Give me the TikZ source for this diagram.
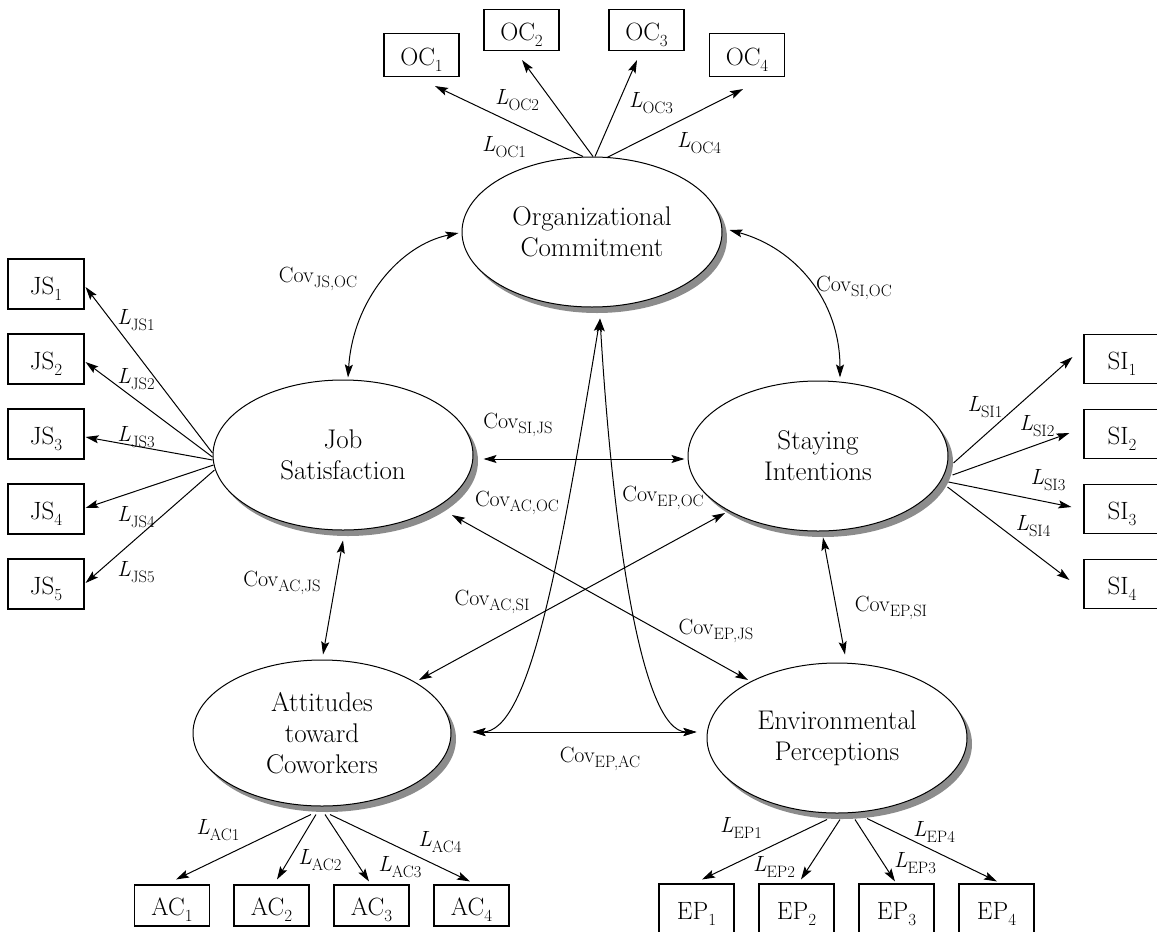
\documentclass[tikz,border=0pt]{standalone}
\usetikzlibrary{arrows.meta,shapes.geometric}
\newcommand\lsub[1]{\raisebox{-5.5pt}{\fontsize{16.5}{16.5}\selectfont #1}}
\newcommand\bsub[1]{\raisebox{-6pt}{\fontsize{17}{17}\selectfont #1}}
\tikzset{
  latent/.style={ellipse, draw, line width=1pt, fill=white, minimum width=260pt, minimum height=150pt,
    inner sep=0pt, align=center, font=\fontsize{27}{31}\selectfont,
    preaction={fill=black!45, transform canvas={shift={(5pt,-6pt)}}}},
  obsbox/.style={draw, line width=1.1pt, minimum width=75pt, inner sep=0pt,
    text height=20pt, text depth=0pt, font=\fontsize{25}{28}\selectfont},
  lab/.style={inner sep=0pt, font=\fontsize{22}{26}\selectfont},
  tip/.style={Stealth[length=13pt,width=8pt,inset=2.5pt]},
  arr/.style={-{Stealth[length=13pt,width=8pt,inset=2.5pt]}, line width=1pt},
  darr/.style={{Stealth[length=13pt,width=8pt,inset=2.5pt]}-{Stealth[length=13pt,width=8pt,inset=2.5pt]}, line width=1pt}
}
\begin{document}
\begin{tikzpicture}[x=1pt,y=-1pt]
\path[fill=white, use as bounding box] (0,0) rectangle (1157,932);

% latent variables
\node[latent] (oc) at (592,232) {Organizational\\Commitment};
\node[latent] (js) at (343,455) {Job\\Satisfaction};
\node[latent] (si) at (818,456) {Staying\\Intentions};
\node[latent, minimum width=258pt, minimum height=146pt] (ac) at (322,733) {Attitudes\\toward\\Coworkers};
\node[latent] (ep) at (837,738) {Environmental\\Perceptions};

% observed boxes
\node[obsbox, minimum height=43pt] (oc1) at (421.5,55) {OC\bsub{1}};
\node[obsbox, minimum height=41pt] (oc2) at (521.5,30) {OC\bsub{2}};
\node[obsbox, minimum height=41pt] (oc3) at (646.5,30) {OC\bsub{3}};
\node[obsbox, minimum height=43pt] (oc4) at (747,55) {OC\bsub{4}};

\node[obsbox, minimum width=76pt, minimum height=50pt] (js1) at (46,284) {JS\bsub{1}};
\node[obsbox, minimum width=76pt, minimum height=50pt] (js2) at (46,359) {JS\bsub{2}};
\node[obsbox, minimum width=76pt, minimum height=50pt] (js3) at (46,434) {JS\bsub{3}};
\node[obsbox, minimum width=76pt, minimum height=50pt] (js4) at (46,509) {JS\bsub{4}};
\node[obsbox, minimum width=76pt, minimum height=50pt] (js5) at (46,584) {JS\bsub{5}};

\node[obsbox, minimum width=76pt, minimum height=49pt] (si1) at (1122,359) {SI\bsub{1}};
\node[obsbox, minimum width=76pt, minimum height=49pt] (si2) at (1122,434) {SI\bsub{2}};
\node[obsbox, minimum width=76pt, minimum height=49pt] (si3) at (1122,509) {SI\bsub{3}};
\node[obsbox, minimum width=76pt, minimum height=49pt] (si4) at (1122,584) {SI\bsub{4}};

\node[obsbox, minimum height=41pt] (ac1) at (172,905.5) {AC\bsub{1}};
\node[obsbox, minimum height=41pt] (ac2) at (271.5,905.5) {AC\bsub{2}};
\node[obsbox, minimum height=41pt] (ac3) at (371.5,905.5) {AC\bsub{3}};
\node[obsbox, minimum height=41pt] (ac4) at (471.5,905.5) {AC\bsub{4}};

\node[obsbox, minimum height=50pt] (ep1) at (696.5,909) {EP\bsub{1}};
\node[obsbox, minimum height=50pt] (ep2) at (796.5,909) {EP\bsub{2}};
\node[obsbox, minimum height=50pt] (ep3) at (896.5,909) {EP\bsub{3}};
\node[obsbox, minimum height=50pt] (ep4) at (996.5,909) {EP\bsub{4}};

% loadings
\draw[arr] ([shift={(-9,0)}]oc.north) -- ([shift={(13.5,9)}]oc1.south);
\draw[arr] ([shift={(1,0)}]oc.north) -- ([shift={(0.5,9)}]oc2.south);
\draw[arr] ([shift={(3,0)}]oc.north) -- ([shift={(-9.5,9)}]oc3.south);
\draw[arr] ([shift={(15,1)}]oc.north) -- ([shift={(-4,12)}]oc4.south);

\draw[arr] ([shift={(0,-2)}]js.west) -- ([shift={(1,3)}]js1.east);
\draw[arr] ([shift={(0,2)}]js.west) -- ([shift={(1,3)}]js2.east);
\draw[arr] ([shift={(0,5)}]js.west) -- ([shift={(1,3)}]js3.east);
\draw[arr] ([shift={(1,10)}]js.west) -- ([shift={(1,-1)}]js4.east);
\draw[arr] ([shift={(2,15)}]js.west) -- ([shift={(1,-1)}]js5.east);

\draw[arr] ([shift={(5,7)}]si.east) -- ([shift={(-11,-2)}]si1.west);
\draw[arr] ([shift={(4,19)}]si.east) -- ([shift={(-14,-1)}]si2.west);
\draw[arr] ([shift={(0,26)}]si.east) -- ([shift={(-12,-2)}]si3.west);
\draw[arr] ([shift={(-1,31)}]si.east) -- ([shift={(-14,-4)}]si4.west);

\draw[arr] ([shift={(-11,8)}]ac.south) -- ([shift={(4,-5)}]ac1.north);
\draw[arr] ([shift={(-6,8)}]ac.south) -- ([shift={(5.5,-5)}]ac2.north);
\draw[arr] ([shift={(3,8)}]ac.south) -- ([shift={(-2.5,-3)}]ac3.north);
\draw[arr] ([shift={(8,8)}]ac.south) -- ([shift={(-1.5,-3)}]ac4.north);

\draw[arr] ([shift={(-10,6)}]ep.south) -- ([shift={(5.5,-4)}]ep1.north);
\draw[arr] ([shift={(3,6)}]ep.south) -- ([shift={(4.5,-4)}]ep2.north);
\draw[arr] ([shift={(18,6)}]ep.south) -- ([shift={(-1.5,-2)}]ep3.north);
\draw[arr] ([shift={(30,5)}]ep.south) -- ([shift={(0.5,-2)}]ep4.north);

% covariances
\draw[darr] ([shift={(5,-2)}]js.north) .. controls (353,300) and (400,245) .. ([shift={(-3,1)}]oc.west);
\draw[darr] ([shift={(7,-2)}]oc.east) .. controls (795,248) and (840,300) .. ([shift={(22,-3)}]si.north);
\draw[darr] ([shift={(10,4)}]js.east) -- ([shift={(-3,3)}]si.west);
\draw[darr] ([shift={(0,10)}]js.south) -- ([shift={(1,-5)}]ac.north);
\draw[darr] ([shift={(5,6)}]si.south) -- ([shift={(8,-8)}]ep.north);
\draw[darr] ([shift={(97,-53)}]ac.center) -- ([shift={(-93,57)}]si.center);
\draw[darr] ([shift={(109,60)}]js.center) -- ([shift={(-89,-58)}]ep.center);
\draw[darr] ([shift={(21,-1)}]ac.east) .. controls (530,732) and (560,560) .. ([shift={(8,11)}]oc.south);
\draw[darr] ([shift={(8,11)}]oc.south) .. controls (612,520) and (640,732) .. ([shift={(-10,-6)}]ep.west);
\draw[darr] ([shift={(21,-1)}]ac.east) -- ([shift={(-10,-6)}]ep.west);

% loading labels
\node[lab] (loc1) at (504,147) {\textit{L}\lsub{OC1}};
\node[lab] (loc2) at (517,100) {\textit{L}\lsub{OC2}};
\node[lab] (loc3) at (651,103) {\textit{L}\lsub{OC3}};
\node[lab] (loc4) at (699,143) {\textit{L}\lsub{OC4}};

\node[lab] (ljs1) at (136,320) {\textit{L}\lsub{JS1}};
\node[lab] (ljs2) at (136,379) {\textit{L}\lsub{JS2}};
\node[lab] (ljs3) at (136,437) {\textit{L}\lsub{JS3}};
\node[lab] (ljs4) at (136,517) {\textit{L}\lsub{JS4}};
\node[lab] (ljs5) at (136,572) {\textit{L}\lsub{JS5}};

\node[lab] (lsi1) at (985,407) {\textit{L}\lsub{SI1}};
\node[lab] (lsi2) at (1037,426) {\textit{L}\lsub{SI2}};
\node[lab] (lsi3) at (1048,480) {\textit{L}\lsub{SI3}};
\node[lab] (lsi4) at (1033,526) {\textit{L}\lsub{SI4}};

\node[lab] (lac1) at (218,830) {\textit{L}\lsub{AC1}};
\node[lab] (lac2) at (320,860) {\textit{L}\lsub{AC2}};
\node[lab] (lac3) at (400,867) {\textit{L}\lsub{AC3}};
\node[lab] (lac4) at (440,842) {\textit{L}\lsub{AC4}};

\node[lab] (lep1) at (741,828) {\textit{L}\lsub{EP1}};
\node[lab] (lep2) at (774,867) {\textit{L}\lsub{EP2}};
\node[lab] (lep3) at (915,863) {\textit{L}\lsub{EP3}};
\node[lab] (lep4) at (934,832) {\textit{L}\lsub{EP4}};

% covariance labels
\node[lab] (cjsoc) at (318,279) {Cov\lsub{JS,OC}};
\node[lab] (csioc) at (854,288) {Cov\lsub{SI,OC}};
\node[lab] (csijs) at (518,425) {Cov\lsub{SI,JS}};
\node[lab] (cacoc) at (517,503) {Cov\lsub{AC,OC}};
\node[lab] (cepoc) at (663,498) {Cov\lsub{EP,OC}};
\node[lab] (cacjs) at (282,583) {Cov\lsub{AC,JS}};
\node[lab] (cacsi) at (492,602) {Cov\lsub{AC,SI}};
\node[lab] (cepsi) at (891,608) {Cov\lsub{EP,SI}};
\node[lab] (cepjs) at (716,631) {Cov\lsub{EP,JS}};
\node[lab] (cepac) at (600,759) {Cov\lsub{EP,AC}};
\end{tikzpicture}
\end{document}
